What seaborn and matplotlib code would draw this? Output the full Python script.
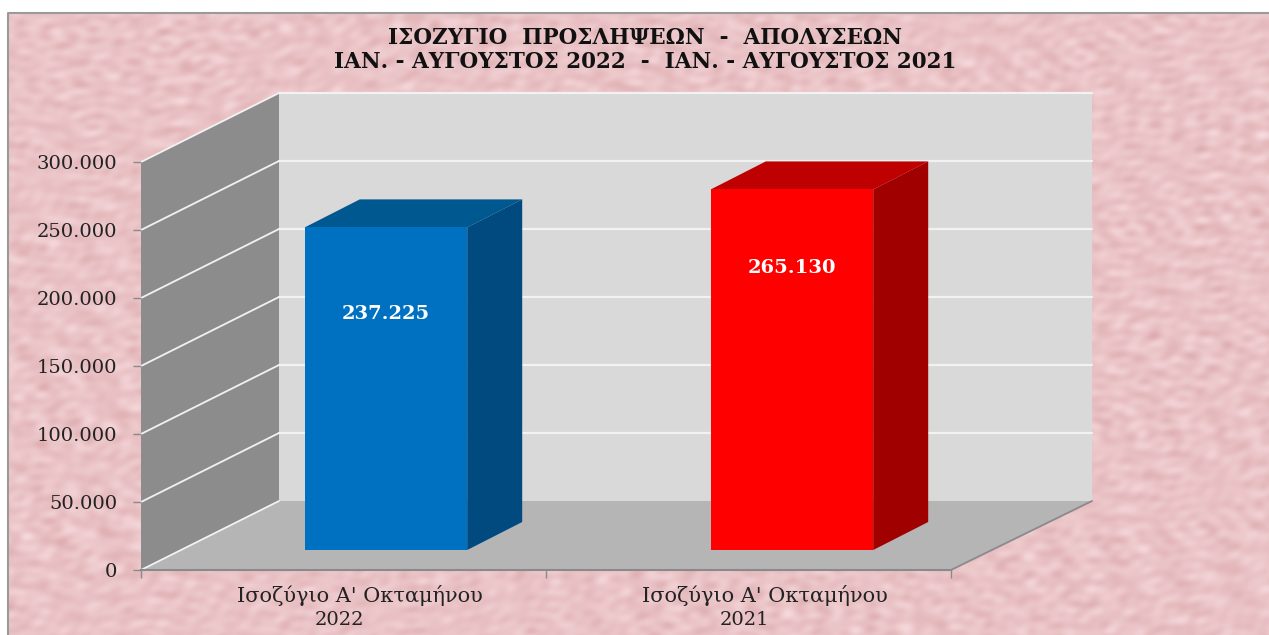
import numpy as np
import matplotlib
matplotlib.use('Agg')
import matplotlib.pyplot as plt
from matplotlib.patches import Polygon
import seaborn as sns

# datos del grafico
categories = ["Ισοζύγιο Α' Οκταμήνου 2022", "Ισοζύγιο Α' Οκταμήνου 2021"]
label_line1 = ["Ισοζύγιο Α' Οκταμήνου", "Ισοζύγιο Α' Οκταμήνου"]
label_line2 = ["2022", "2021"]
values = [237225, 265130]
value_labels = ['237.225', '265.130']
y_ticks = [0, 50000, 100000, 150000, 200000, 250000, 300000]
y_tick_labels = ['0', '50.000', '100.000', '150.000', '200.000', '250.000', '300.000']
title_lines = ['ΙΣΟΖΥΓΙΟ  ΠΡΟΣΛΗΨΕΩΝ  -  ΑΠΟΛΥΣΕΩΝ',
               'ΙΑΝ. - ΑΥΓΟΥΣΤΟΣ 2022  -  ΙΑΝ. - ΑΥΓΟΥΣΤΟΣ 2021']

front_colors = ['#0070c0', '#ff0000']
top_colors = ['#005890', '#bf0000']
side_colors = ['#004a80', '#a00000']

W, H = 1269, 635
serif = 'DejaVu Serif'

sns.set_theme(style='white')
plt.rcParams['font.family'] = [serif]

fig = plt.figure(figsize=(W / 100, H / 100), dpi=100, facecolor='white')

# fondo en pixeles
bg = fig.add_axes([0, 0, 1, 1])
bg.axis('off')

# textura rosa del fondo: muchas ondas en direcciones distintas
yy, xx = np.mgrid[0:H, 0:W]
tex = np.zeros((H, W))
for k in range(1, 140):
    angle = k * 2.39996
    freq = 0.13 + 0.42 * ((k * 0.618034) % 1)
    phase = k * k * 0.7548
    tex += np.sin(freq * (0.8 * xx * np.cos(angle) + 1.3 * yy * np.sin(angle)) + phase) / (1 + 4 * freq)
tex = tex / tex.std()
base = np.array([234, 195, 198])
img = np.clip(base[None, None, :] + tex[..., None] * np.array([3, 5.5, 5.5]), 0, 255) / 255
bg.imshow(img, extent=(0, W, H, 0), aspect='auto', zorder=0, interpolation='bilinear')
bg.add_patch(Polygon([(0, 0), (W, 0), (W, 13), (8, 13), (8, H), (0, H)], color='white', lw=0, zorder=1))
bg.plot([8, 8, W], [H, 13, 13], color='#9a9a9a', lw=1.5, zorder=2)
bg.set_xlim(0, W)
bg.set_ylim(H, 0)

# plano frontal del eje
front_left, front_right, front_bottom, front_top = 141, 951, 570, 162
depth_x, depth_y = 138, 69
ax = fig.add_axes([front_left / W, 1 - front_bottom / H,
                   (front_right - front_left) / W, (front_bottom - front_top) / H])
ax.patch.set_alpha(0)
ax.set_xlim(-0.5, 1.5)
ax.set_ylim(0, 300000)
ax.set_yticks(y_ticks)
ax.set_yticklabels(y_tick_labels, fontsize=14, color='#222222')
ax.set_xticks([-0.5, 0.5, 1.5])
ax.set_xticklabels([])
ax.tick_params(axis='both', length=6, width=1, color='#8a8a8a', pad=11, left=True, bottom=True)
sns.despine(ax=ax, left=True, top=True, right=True)
ax.spines['bottom'].set_color('#8a8a8a')
ax.spines['bottom'].set_linewidth(1.5)


def to_px(a, x, y):
    return bg.transData.inverted().transform(a.transData.transform((x, y)))


# paredes y piso
back_right = 1092
bg.add_patch(Polygon([(front_left, front_top), (front_left + depth_x, front_top - depth_y),
                      (front_left + depth_x, front_bottom - depth_y), (front_left, front_bottom)],
                     color='#8c8c8c', lw=0, zorder=3))
bg.add_patch(Polygon([(front_left + depth_x, front_top - depth_y), (back_right, front_top - depth_y),
                      (back_right, front_bottom - depth_y), (front_left + depth_x, front_bottom - depth_y)],
                     color='#d9d9d9', lw=0, zorder=3))
bg.add_patch(Polygon([(front_left, front_bottom), (front_left + depth_x, front_bottom - depth_y),
                      (back_right, front_bottom - depth_y), (front_right, front_bottom)],
                     color='#b5b5b5', lw=0, zorder=3))
bg.plot([front_right, back_right], [front_bottom, front_bottom - depth_y], color='#8a8a8a', lw=1.3, zorder=4)

for v in y_ticks:
    px, py = to_px(ax, -0.5, v)
    bg.plot([px, px + depth_x], [py, py - depth_y], color='#f2f2f2', lw=1.3, zorder=4)
    if v > 0:
        bg.plot([px + depth_x, back_right], [py - depth_y, py - depth_y], color='#f2f2f2', lw=1.6, zorder=4)

# barras, desplazadas hacia el fondo
ax_bars = fig.add_axes([183 / W, 1 - (front_bottom - 20) / H,
                        812 / W, (front_bottom - front_top) / H])
ax_bars.patch.set_alpha(0)
sns.barplot(x=categories, y=values, hue=categories, palette=front_colors, legend=False,
            width=0.4, saturation=1, linewidth=0, ax=ax_bars)
ax_bars.set_xlim(-0.5, 1.5)
ax_bars.set_ylim(0, 300000)
ax_bars.axis('off')

bar_dx, bar_dy = 55, 28
label_drop = [64000, 58000]
for i, bar in enumerate(ax_bars.patches):
    x0, x1 = bar.get_x(), bar.get_x() + bar.get_width()
    h = bar.get_height()
    lt = to_px(ax_bars, x0, h)
    rt = to_px(ax_bars, x1, h)
    rb = to_px(ax_bars, x1, 0)
    offs = np.array([bar_dx, -bar_dy])
    bg.add_patch(Polygon([lt, lt + offs, rt + offs, rt], color=top_colors[i], lw=0, zorder=5))
    bg.add_patch(Polygon([rt, rt + offs, rb + offs, rb], color=side_colors[i], lw=0, zorder=5))
    ax_bars.text(i, h - label_drop[i], value_labels[i], ha='center', va='center',
                 color='white', fontsize=14, fontweight='bold')

# etiquetas de categoria
for i in range(len(categories)):
    ax.annotate(label_line1[i], (i, 0), xytext=(16, -26), textcoords='offset pixels',
                ha='center', va='center', fontsize=15, color='#222222', annotation_clip=False)
    ax.annotate(label_line2[i], (i, 0), xytext=(-4, -50), textcoords='offset pixels',
                ha='center', va='center', fontsize=14, color='#222222', annotation_clip=False)

# titulo
fig.text(645 / W, 1 - 38 / H, title_lines[0], ha='center', va='center',
         fontsize=15.5, fontweight='bold', color='#111111')
fig.text(645 / W, 1 - 62 / H, title_lines[1], ha='center', va='center',
         fontsize=15.5, fontweight='bold', color='#111111')

fig.savefig('out.png', dpi=100, facecolor='white')
